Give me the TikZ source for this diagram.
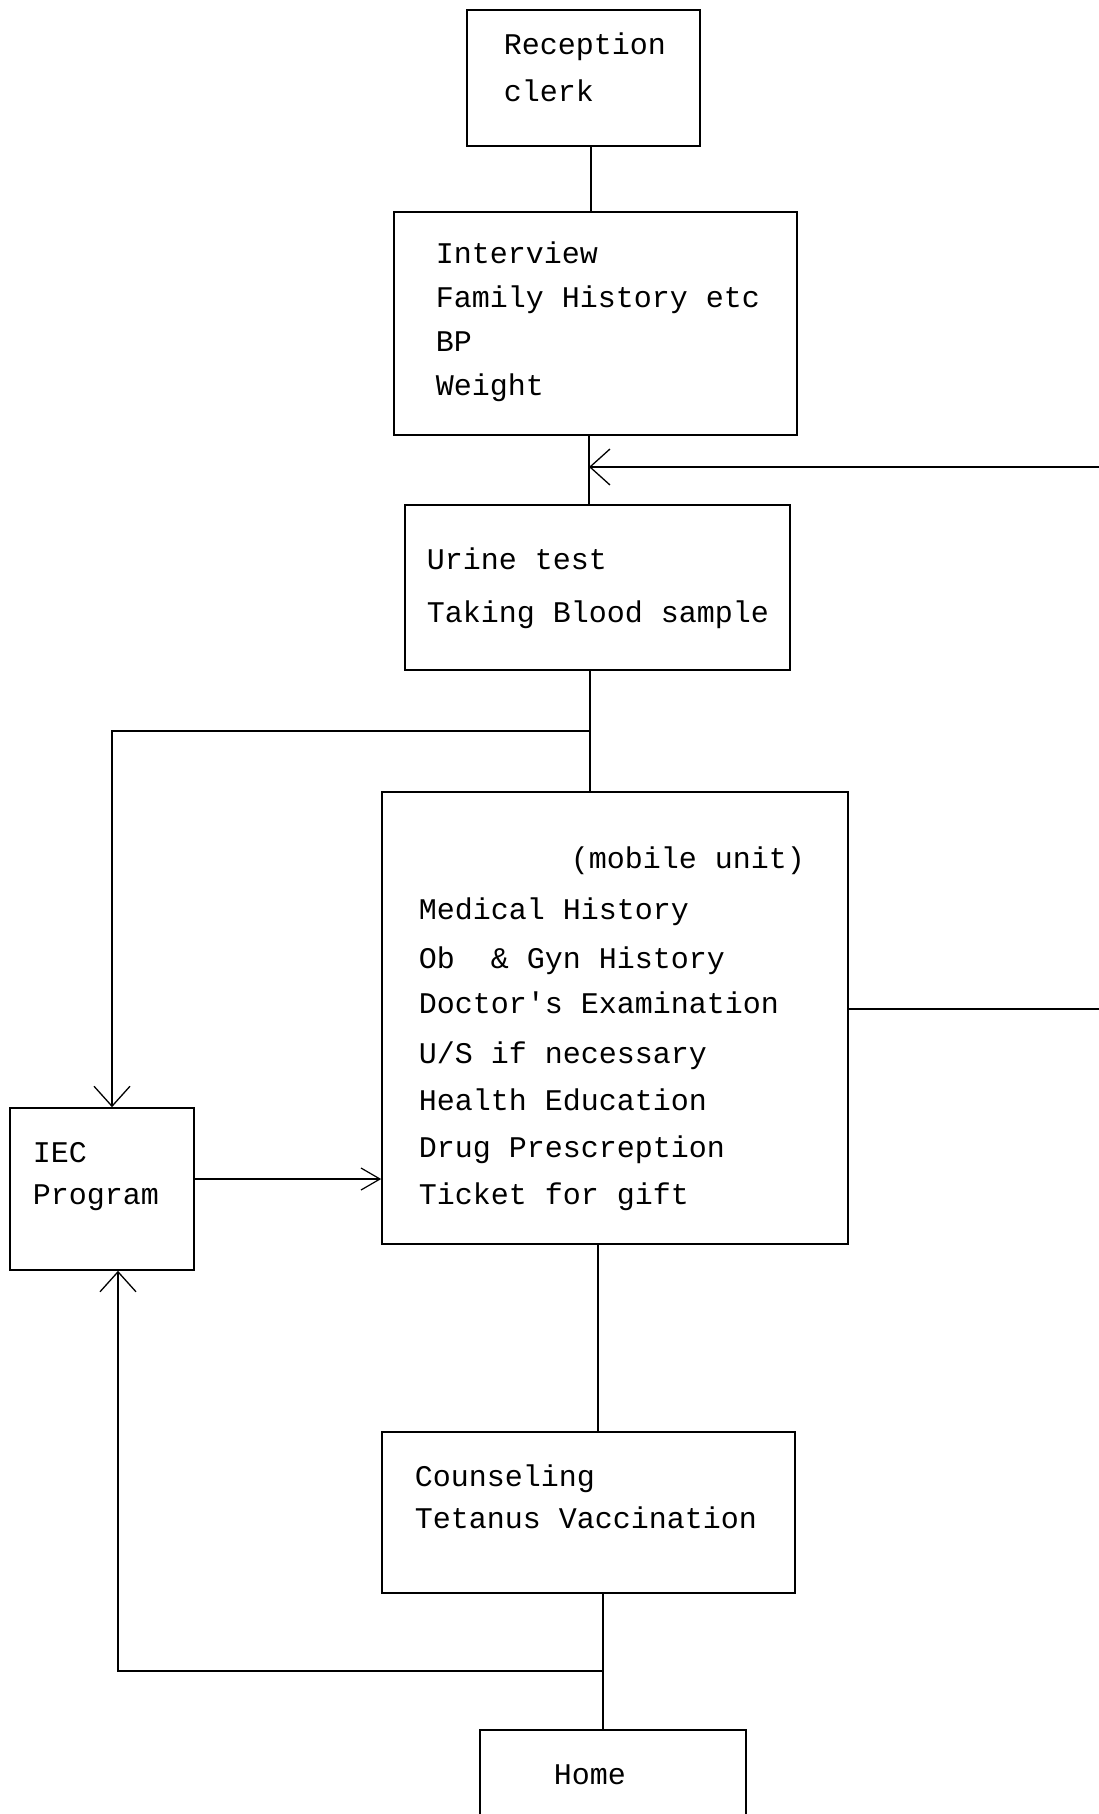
\documentclass[tikz,border=0pt]{standalone}
\usepackage{fontspec}
\setmonofont{Liberation Mono}
\usetikzlibrary{arrows.meta}
\begin{document}
\begin{tikzpicture}[x=1pt,y=-1pt,line width=1.6pt,
  box/.style={draw,rectangle,inner sep=0pt,line width=1.6pt},
  txt/.style={anchor=base west,inner sep=0pt,font=\ttfamily\fontsize{30}{36}\selectfont},
  barb/.style={-{Straight Barb[length=20pt,width=36pt,line width=1.3pt]}},
  barbsmall/.style={-{Straight Barb[length=19pt,width=22pt,line width=1.2pt]}}]
\clip (0,0) rectangle (1099,1814);
% boxes
\node[box,minimum width=233pt,minimum height=136pt] (rec) at (583.5,78) {};
\node[box,minimum width=403pt,minimum height=223pt] (int) at (595.5,323.5) {};
\node[box,minimum width=385pt,minimum height=165pt] (urine) at (597.5,587.5) {};
\node[box,minimum width=466pt,minimum height=452pt] (main) at (615,1018) {};
\node[box,minimum width=184pt,minimum height=162pt] (iec) at (102,1189) {};
\node[box,minimum width=413pt,minimum height=161pt] (couns) at (588.5,1512.5) {};
\node[box,minimum width=266pt,minimum height=110pt] (home) at (613,1785) {};
% texts
\node[txt] (t1) at (503,55) {Reception};
\node[txt] (t2) at (503,102) {clerk};
\node[txt] (t3) at (435,263) {Interview};
\node[txt] (t4) at (435,307) {Family History etc};
\node[txt] (t5) at (435,351) {BP};
\node[txt] (t6) at (435,395) {Weight};
\node[txt] (t7) at (426,569) {Urine test};
\node[txt] (t8) at (426,622) {Taking Blood sample};
\node[txt] (t9) at (570,868) {(mobile unit)};
\node[txt] (t10) at (418,919) {Medical History};
\node[txt] (t11) at (418,968) {Ob~~\& Gyn History};
\node[txt] (t12) at (418,1013) {Doctor's Examination};
\node[txt] (t13) at (418,1063) {U/S if necessary};
\node[txt] (t14) at (418,1110) {Health Education};
\node[txt] (t15) at (418,1157) {Drug Prescreption};
\node[txt] (t16) at (418,1204) {Ticket for gift};
\node[txt] (t17) at (32,1162) {IEC};
\node[txt] (t18) at (32,1204) {Program};
\node[txt] (t19) at (414,1486) {Counseling};
\node[txt] (t20) at (414,1528) {Tetanus Vaccination};
\node[txt] (t21) at (553,1784) {Home};
% connectors
\coordinate (xa) at (591,0);
\draw (rec.south -| xa) -- (int.north -| xa);
\coordinate (j1) at (589,467);
\coordinate (e1) at (1099,467);
\draw (int.south -| j1) -- (urine.north -| j1);
\draw[barb] (e1) -- (j1);
\coordinate (j2) at (590,731);
\coordinate (c2) at (112,731);
\draw (urine.south -| j2) -- (main.north -| j2);
\draw[barb] (j2) -- (c2) -- (iec.north -| c2);
\coordinate (xm) at (598,0);
\draw (main.south -| xm) -- (couns.north -| xm);
\coordinate (j3) at (603,1671);
\coordinate (c3) at (118,1671);
\draw (couns.south -| j3) -- (home.north -| j3);
\draw[barb] (j3) -- (c3) -- (iec.south -| c3);
\coordinate (ya) at (0,1179);
\draw[barbsmall] (iec.east |- ya) -- (main.west |- ya);
\coordinate (e2) at (1099,1009);
\draw (main.east |- e2) -- (e2);
\end{tikzpicture}
\end{document}
